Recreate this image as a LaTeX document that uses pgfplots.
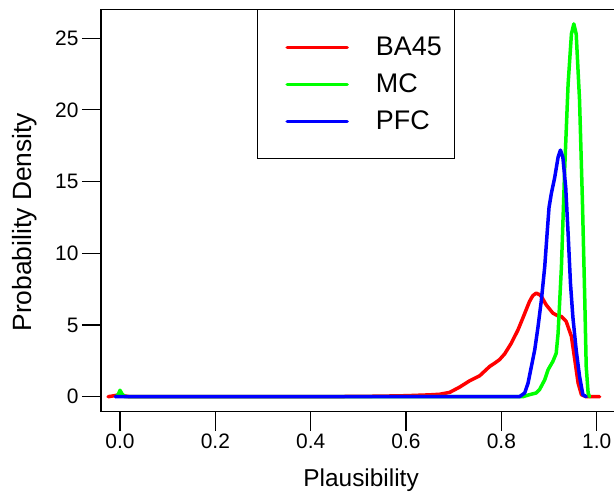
\documentclass[border=0pt]{standalone}
\usepackage{pgfplots}
\pgfplotsset{compat=1.18}
\usepackage{fontspec}
\setmainfont{Liberation Sans}
\definecolor{rred}{RGB}{255,0,0}
\definecolor{rgreen}{RGB}{0,255,0}
\definecolor{rblue}{RGB}{0,0,255}
\begin{document}
\begin{tikzpicture}
\begin{axis}[
  scale only axis,
  width=513bp, height=402.4bp,
  xmin=-0.0399, xmax=1.0363,
  ymin=-1.046, ymax=27.02,
  axis x line=box, axis y line=left,
  axis line style={-, line width=1.1bp},
  tick style={line width=1.1bp, black},
  tick align=outside,
  major tick length=19bp,
  xtick pos=bottom,
  xtick={0,0.2,0.4,0.6,0.8,1.0},
  xticklabels={0.0,0.2,0.4,0.6,0.8,1.0},
  ytick={0,5,10,15,20,25},
  /pgf/number format/assume math mode=true,
  tick label style={font=\fontsize{21}{25}\selectfont},
  xlabel={Plausibility},
  ylabel={Probability Density},
  xlabel style={font=\fontsize{24.5}{28}\selectfont, at={(axis description cs:0.507,-0.187)}, anchor=base},
  ylabel style={font=\fontsize{26.5}{30}\selectfont, at={(axis description cs:-0.1345,0.471)}, anchor=base},
  legend cell align=left,
  legend style={at={(axis description cs:0.304,1)}, anchor=north west,
    draw=black, line width=1bp, fill=white,
    font=\fontsize{27}{27}\selectfont,
    inner xsep=13bp, inner ysep=19bp, row sep=0pt, column sep=27bp,
    nodes={inner sep=0pt, minimum height=37bp}},
  legend image code/.code={\path (-15bp,0bp); \draw[#1, line width=3.5bp] (0bp,0bp) -- (60bp,0bp);},
  every axis plot/.append style={line width=3.5bp, line join=round, line cap=round},
]
% BA45
\addplot[rred] coordinates {
(-0.025,0) (-0.01,0.08) (0.0,0.14) (0.01,0.05) (0.02,0) (0.3,0) (0.45,0.01) (0.5,0.02) (0.55,0.04) (0.6,0.07) (0.65,0.13)
(0.6705,0.17) (0.6915,0.30) (0.7125,0.67) (0.7335,1.11) (0.7545,1.46) (0.7755,2.11)
(0.786,2.34) (0.796,2.58) (0.807,2.99) (0.821,3.74) (0.835,4.67) (0.845,5.48)
(0.859,6.64) (0.866,7.05) (0.873,7.22) (0.880,7.12) (0.884,6.99) (0.894,6.41)
(0.908,5.83) (0.918,5.65) (0.926,5.59) (0.936,5.25) (0.947,4.20) (0.954,2.58)
(0.961,0.95) (0.968,0.14) (0.978,0) (1.006,0)
};
\addlegendentry{BA45}
% MC
\addplot[rgreen] coordinates {
(-0.008,0) (-0.003,0.2) (0.0,0.45) (0.004,0.2) (0.01,0) (0.5,0) (0.845,0)
(0.859,0.14) (0.873,0.26) (0.880,0.49) (0.891,1.18) (0.898,1.88) (0.908,2.46)
(0.915,3.02) (0.919,4.41) (0.926,9.05) (0.933,16.0) (0.940,21.8) (0.947,25.3)
(0.952,26.0) (0.957,25.3) (0.964,20.7) (0.970,13.7) (0.975,6.75) (0.978,2.11)
(0.982,0.26) (0.985,0)
};
\addlegendentry{MC}
% PFC
\addplot[rblue] coordinates {
(-0.01,0) (0.5,0) (0.838,0) (0.849,0.26) (0.856,0.95) (0.863,2.11) (0.870,3.27)
(0.877,4.90) (0.884,6.75) (0.891,9.07) (0.896,11.4) (0.900,13.2) (0.905,14.2)
(0.912,15.3) (0.919,16.7) (0.924,17.2) (0.929,16.7) (0.935,14.6) (0.940,11.4)
(0.945,7.89) (0.950,5.57) (0.957,3.25) (0.964,1.42) (0.971,0.14) (0.978,0)
};
\addlegendentry{PFC}
\end{axis}
\pgfresetboundingbox
\path[use as bounding box] ([shift={(-101bp,-84.3bp)}]current axis.south west) rectangle ([shift={(0bp,9.3bp)}]current axis.north east);
\end{tikzpicture}
\end{document}
